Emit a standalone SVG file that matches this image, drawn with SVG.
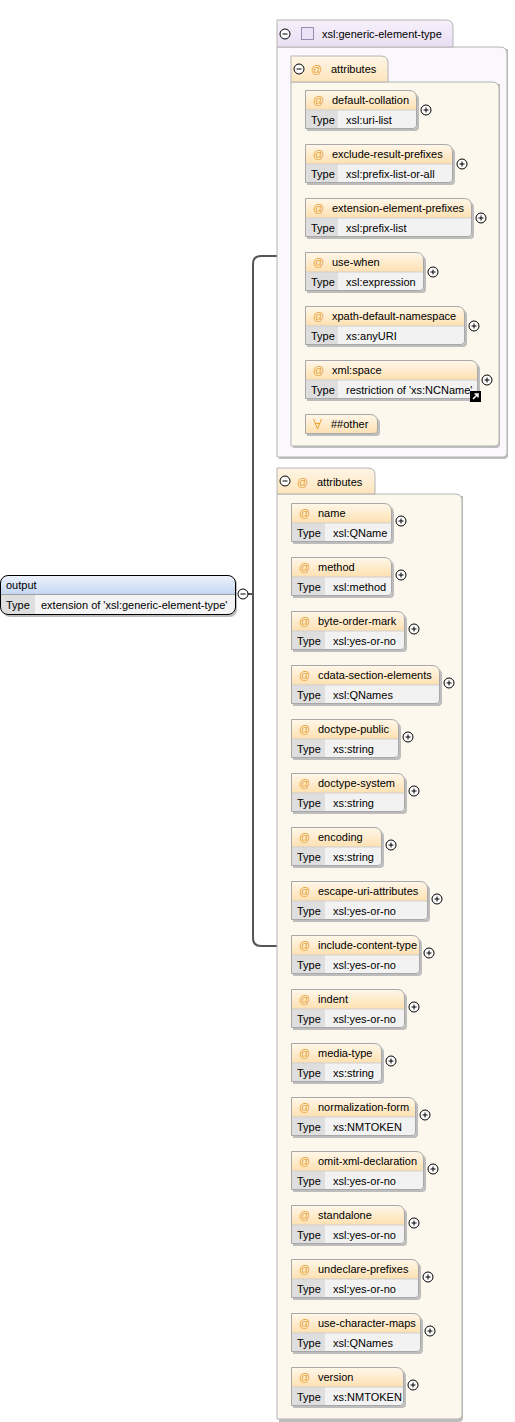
<svg xmlns="http://www.w3.org/2000/svg" width="515" height="1422" viewBox="0 0 515 1422">
<defs>
<linearGradient id="gAttr" x1="0" y1="0" x2="0" y2="1"><stop offset="0" stop-color="#fff8ec"/><stop offset="1" stop-color="#fde0b0"/></linearGradient>
<linearGradient id="gTab" x1="0" y1="0" x2="0" y2="1"><stop offset="0" stop-color="#fff6e6"/><stop offset="1" stop-color="#fce4bc"/></linearGradient>
<linearGradient id="gPurp" x1="0" y1="0" x2="0" y2="1"><stop offset="0" stop-color="#f6f0fb"/><stop offset="1" stop-color="#e9def3"/></linearGradient>
<linearGradient id="gBlue" x1="0" y1="0" x2="0" y2="1"><stop offset="0" stop-color="#eef3fc"/><stop offset="1" stop-color="#c4d6f2"/></linearGradient>
<g id="plus"><circle cx="0" cy="0" r="5" fill="#fff" stroke="#000" stroke-width="1"/><path d="M-2.5,0H2.5M0,-2.5V2.5" stroke="#000" stroke-width="1"/></g>
<g id="minus"><circle cx="0" cy="0" r="5" fill="#fff" stroke="#000" stroke-width="1"/><path d="M-2.5,0H2.5" stroke="#000" stroke-width="1"/></g>
</defs>
<style>
text{font-family:"Liberation Sans",Arial,sans-serif;font-size:11px;fill:#000}
.at{fill:#e8a030}
.sh{fill:#bdbdbd}
.bd{fill:none;stroke:#a8a8a8;stroke-width:1}
.tc{fill:#dedede}
.vc{fill:#f2f2f2}
.dv{stroke:#cfcfcf;stroke-width:1}
.conn{fill:none;stroke:#555;stroke-width:2}
</style>
<rect width="515" height="1422" fill="#fff"/>

<g id="connectors">
<path class="conn" d="M248,594H253"/>
<path class="conn" d="M290,256H261Q253,256 253,264V938Q253,946 261,946H277"/>
</g>

<g id="generic-element-type">
<path d="M279,49H508V455Q508,459 504,459H279Z" class="sh"/>
<path d="M277,47H500Q507,47 507,54V453Q507,457 503,457H277Z" fill="#faf7fd" stroke="#b4b4b4"/>
<path d="M277,20H446Q453,20 453,27V47H277Z" fill="url(#gPurp)" stroke="#b4b4b4"/>
<use href="#minus" x="285" y="34"/>
<rect x="301.5" y="27.5" width="12" height="12" fill="#ece2f6" stroke="#9a8cae"/>
<text x="322" y="38">xsl:generic-element-type</text>
</g>

<g id="attributes-1">
<path d="M293,84H500V444Q500,448 496,448H293Z" class="sh"/>
<path d="M291,82H492Q499,82 499,89V442Q499,446 495,446H291Z" fill="#fdf8ee" stroke="#b4b4b4"/>
<path d="M291,56H381Q388,56 388,63V82H291Z" fill="url(#gTab)" stroke="#b4b4b4"/>
<use href="#minus" x="299" y="69"/>
<text x="311" y="73" class="at">@</text>
<text x="331" y="73">attributes</text>
</g>

<g id="default-collation" transform="translate(305,90)">
<path d="M2,2H104Q114,2 114,10V37Q114,41 110,41H2Z" class="sh"/>
<path d="M0,0H104Q112,0 112,8V20H0Z" fill="url(#gAttr)"/>
<rect x="0" y="20" width="33" height="19" class="tc"/><path d="M33,20H112V35Q112,39 108,39H33Z" class="vc"/>
<path d="M0,20H112" class="dv"/>
<path d="M0.5,0.5H104Q111.5,0.5 111.5,8V35Q111.5,38.5 108,38.5H0.5Z" class="bd"/>
<text x="8" y="14" class="at">@</text><text x="27" y="14">default-collation</text>
<text x="6" y="34">Type</text><text x="41" y="34">xsl:uri-list</text>
<use href="#plus" x="121" y="20"/>
</g>

<g id="exclude-result-prefixes" transform="translate(305,144)">
<path d="M2,2H140Q150,2 150,10V37Q150,41 146,41H2Z" class="sh"/>
<path d="M0,0H140Q148,0 148,8V20H0Z" fill="url(#gAttr)"/>
<rect x="0" y="20" width="33" height="19" class="tc"/><path d="M33,20H148V35Q148,39 144,39H33Z" class="vc"/>
<path d="M0,20H148" class="dv"/>
<path d="M0.5,0.5H140Q147.5,0.5 147.5,8V35Q147.5,38.5 144,38.5H0.5Z" class="bd"/>
<text x="8" y="14" class="at">@</text><text x="27" y="14">exclude-result-prefixes</text>
<text x="6" y="34">Type</text><text x="41" y="34">xsl:prefix-list-or-all</text>
<use href="#plus" x="157" y="20"/>
</g>

<g id="extension-element-prefixes" transform="translate(305,198)">
<path d="M2,2H159Q169,2 169,10V37Q169,41 165,41H2Z" class="sh"/>
<path d="M0,0H159Q167,0 167,8V20H0Z" fill="url(#gAttr)"/>
<rect x="0" y="20" width="33" height="19" class="tc"/><path d="M33,20H167V35Q167,39 163,39H33Z" class="vc"/>
<path d="M0,20H167" class="dv"/>
<path d="M0.5,0.5H159Q166.5,0.5 166.5,8V35Q166.5,38.5 163,38.5H0.5Z" class="bd"/>
<text x="8" y="14" class="at">@</text><text x="27" y="14">extension-element-prefixes</text>
<text x="6" y="34">Type</text><text x="41" y="34">xsl:prefix-list</text>
<use href="#plus" x="176" y="20"/>
</g>

<g id="use-when" transform="translate(305,252)">
<path d="M2,2H111Q121,2 121,10V37Q121,41 117,41H2Z" class="sh"/>
<path d="M0,0H111Q119,0 119,8V20H0Z" fill="url(#gAttr)"/>
<rect x="0" y="20" width="33" height="19" class="tc"/><path d="M33,20H119V35Q119,39 115,39H33Z" class="vc"/>
<path d="M0,20H119" class="dv"/>
<path d="M0.5,0.5H111Q118.5,0.5 118.5,8V35Q118.5,38.5 115,38.5H0.5Z" class="bd"/>
<text x="8" y="14" class="at">@</text><text x="27" y="14">use-when</text>
<text x="6" y="34">Type</text><text x="41" y="34">xsl:expression</text>
<use href="#plus" x="128" y="20"/>
</g>

<g id="xpath-default-namespace" transform="translate(305,306)">
<path d="M2,2H152Q162,2 162,10V37Q162,41 158,41H2Z" class="sh"/>
<path d="M0,0H152Q160,0 160,8V20H0Z" fill="url(#gAttr)"/>
<rect x="0" y="20" width="33" height="19" class="tc"/><path d="M33,20H160V35Q160,39 156,39H33Z" class="vc"/>
<path d="M0,20H160" class="dv"/>
<path d="M0.5,0.5H152Q159.5,0.5 159.5,8V35Q159.5,38.5 156,38.5H0.5Z" class="bd"/>
<text x="8" y="14" class="at">@</text><text x="27" y="14">xpath-default-namespace</text>
<text x="6" y="34">Type</text><text x="41" y="34">xs:anyURI</text>
<use href="#plus" x="169" y="20"/>
</g>

<g id="xml-space" transform="translate(305,360)">
<path d="M2,2H165Q175,2 175,10V37Q175,41 171,41H2Z" class="sh"/>
<path d="M0,0H165Q173,0 173,8V20H0Z" fill="url(#gAttr)"/>
<rect x="0" y="20" width="33" height="19" class="tc"/><path d="M33,20H173V35Q173,39 169,39H33Z" class="vc"/>
<path d="M0,20H173" class="dv"/>
<path d="M0.5,0.5H165Q172.5,0.5 172.5,8V35Q172.5,38.5 169,38.5H0.5Z" class="bd"/>
<text x="8" y="14" class="at">@</text><text x="27" y="14">xml:space</text>
<text x="6" y="34">Type</text><text x="41" y="34">restriction of 'xs:NCName'</text>
<rect x="165" y="31" width="11" height="11" fill="#000"/>
<path d="M168,39L173,34M169.5,34H173V37.5" stroke="#fff" stroke-width="1.5" fill="none"/>
<use href="#plus" x="182" y="20"/>
</g>

<g id="other" transform="translate(305,414)">
<path d="M2,2H65Q75,2 75,10V18Q75,22 71,22H2Z" class="sh"/>
<path d="M0,0H65Q73,0 73,8V16Q73,20 69,20H0Z" fill="url(#gAttr)"/>
<path d="M0.5,0.5H65Q72.5,0.5 72.5,8V16Q72.5,19.5 69,19.5H0.5Z" class="bd"/>
<path d="M8.5,5L12.5,15L16.5,5M10,9.5H15" stroke="#e8a030" stroke-width="1" fill="none"/>
<text x="26" y="14">##other</text>
</g>

<g id="attributes-2">
<path d="M279,496H463V1418Q463,1422 459,1422H279Z" class="sh"/>
<path d="M277,494H455Q462,494 462,501V1415Q462,1419 458,1419H277Z" fill="#fdf8ee" stroke="#b4b4b4"/>
<path d="M277,468H368Q375,468 375,475V494H277Z" fill="url(#gTab)" stroke="#b4b4b4"/>
<use href="#minus" x="285" y="481"/>
<text x="297" y="486" class="at">@</text>
<text x="317" y="486">attributes</text>
</g>

<g id="name" transform="translate(291,503)">
<path d="M2,2H93Q103,2 103,10V37Q103,41 99,41H2Z" class="sh"/>
<path d="M0,0H93Q101,0 101,8V20H0Z" fill="url(#gAttr)"/>
<rect x="0" y="20" width="34" height="19" class="tc"/><path d="M34,20H101V35Q101,39 97,39H34Z" class="vc"/>
<path d="M0,20H101" class="dv"/>
<path d="M0.5,0.5H93Q100.5,0.5 100.5,8V35Q100.5,38.5 97,38.5H0.5Z" class="bd"/>
<text x="8" y="14" class="at">@</text><text x="27" y="14">name</text>
<text x="6" y="34">Type</text><text x="42" y="34">xsl:QName</text>
<use href="#plus" x="110" y="18"/>
</g>

<g id="method" transform="translate(291,557)">
<path d="M2,2H93Q103,2 103,10V37Q103,41 99,41H2Z" class="sh"/>
<path d="M0,0H93Q101,0 101,8V20H0Z" fill="url(#gAttr)"/>
<rect x="0" y="20" width="34" height="19" class="tc"/><path d="M34,20H101V35Q101,39 97,39H34Z" class="vc"/>
<path d="M0,20H101" class="dv"/>
<path d="M0.5,0.5H93Q100.5,0.5 100.5,8V35Q100.5,38.5 97,38.5H0.5Z" class="bd"/>
<text x="8" y="14" class="at">@</text><text x="27" y="14">method</text>
<text x="6" y="34">Type</text><text x="42" y="34">xsl:method</text>
<use href="#plus" x="110" y="18"/>
</g>

<g id="byte-order-mark" transform="translate(291,611)">
<path d="M2,2H106Q116,2 116,10V37Q116,41 112,41H2Z" class="sh"/>
<path d="M0,0H106Q114,0 114,8V20H0Z" fill="url(#gAttr)"/>
<rect x="0" y="20" width="34" height="19" class="tc"/><path d="M34,20H114V35Q114,39 110,39H34Z" class="vc"/>
<path d="M0,20H114" class="dv"/>
<path d="M0.5,0.5H106Q113.5,0.5 113.5,8V35Q113.5,38.5 110,38.5H0.5Z" class="bd"/>
<text x="8" y="14" class="at">@</text><text x="27" y="14">byte-order-mark</text>
<text x="6" y="34">Type</text><text x="42" y="34">xsl:yes-or-no</text>
<use href="#plus" x="123" y="18"/>
</g>

<g id="cdata-section-elements" transform="translate(291,665)">
<path d="M2,2H141Q151,2 151,10V37Q151,41 147,41H2Z" class="sh"/>
<path d="M0,0H141Q149,0 149,8V20H0Z" fill="url(#gAttr)"/>
<rect x="0" y="20" width="34" height="19" class="tc"/><path d="M34,20H149V35Q149,39 145,39H34Z" class="vc"/>
<path d="M0,20H149" class="dv"/>
<path d="M0.5,0.5H141Q148.5,0.5 148.5,8V35Q148.5,38.5 145,38.5H0.5Z" class="bd"/>
<text x="8" y="14" class="at">@</text><text x="27" y="14">cdata-section-elements</text>
<text x="6" y="34">Type</text><text x="42" y="34">xsl:QNames</text>
<use href="#plus" x="158" y="18"/>
</g>

<g id="doctype-public" transform="translate(291,719)">
<path d="M2,2H100Q110,2 110,10V37Q110,41 106,41H2Z" class="sh"/>
<path d="M0,0H100Q108,0 108,8V20H0Z" fill="url(#gAttr)"/>
<rect x="0" y="20" width="34" height="19" class="tc"/><path d="M34,20H108V35Q108,39 104,39H34Z" class="vc"/>
<path d="M0,20H108" class="dv"/>
<path d="M0.5,0.5H100Q107.5,0.5 107.5,8V35Q107.5,38.5 104,38.5H0.5Z" class="bd"/>
<text x="8" y="14" class="at">@</text><text x="27" y="14">doctype-public</text>
<text x="6" y="34">Type</text><text x="42" y="34">xs:string</text>
<use href="#plus" x="117" y="18"/>
</g>

<g id="doctype-system" transform="translate(291,773)">
<path d="M2,2H106Q116,2 116,10V37Q116,41 112,41H2Z" class="sh"/>
<path d="M0,0H106Q114,0 114,8V20H0Z" fill="url(#gAttr)"/>
<rect x="0" y="20" width="34" height="19" class="tc"/><path d="M34,20H114V35Q114,39 110,39H34Z" class="vc"/>
<path d="M0,20H114" class="dv"/>
<path d="M0.5,0.5H106Q113.5,0.5 113.5,8V35Q113.5,38.5 110,38.5H0.5Z" class="bd"/>
<text x="8" y="14" class="at">@</text><text x="27" y="14">doctype-system</text>
<text x="6" y="34">Type</text><text x="42" y="34">xs:string</text>
<use href="#plus" x="123" y="18"/>
</g>

<g id="encoding" transform="translate(291,827)">
<path d="M2,2H83Q93,2 93,10V37Q93,41 89,41H2Z" class="sh"/>
<path d="M0,0H83Q91,0 91,8V20H0Z" fill="url(#gAttr)"/>
<rect x="0" y="20" width="34" height="19" class="tc"/><path d="M34,20H91V35Q91,39 87,39H34Z" class="vc"/>
<path d="M0,20H91" class="dv"/>
<path d="M0.5,0.5H83Q90.5,0.5 90.5,8V35Q90.5,38.5 87,38.5H0.5Z" class="bd"/>
<text x="8" y="14" class="at">@</text><text x="27" y="14">encoding</text>
<text x="6" y="34">Type</text><text x="42" y="34">xs:string</text>
<use href="#plus" x="100" y="18"/>
</g>

<g id="escape-uri-attributes" transform="translate(291,881)">
<path d="M2,2H129Q139,2 139,10V37Q139,41 135,41H2Z" class="sh"/>
<path d="M0,0H129Q137,0 137,8V20H0Z" fill="url(#gAttr)"/>
<rect x="0" y="20" width="34" height="19" class="tc"/><path d="M34,20H137V35Q137,39 133,39H34Z" class="vc"/>
<path d="M0,20H137" class="dv"/>
<path d="M0.5,0.5H129Q136.5,0.5 136.5,8V35Q136.5,38.5 133,38.5H0.5Z" class="bd"/>
<text x="8" y="14" class="at">@</text><text x="27" y="14">escape-uri-attributes</text>
<text x="6" y="34">Type</text><text x="42" y="34">xsl:yes-or-no</text>
<use href="#plus" x="146" y="18"/>
</g>

<g id="include-content-type" transform="translate(291,935)">
<path d="M2,2H121Q131,2 131,10V37Q131,41 127,41H2Z" class="sh"/>
<path d="M0,0H121Q129,0 129,8V20H0Z" fill="url(#gAttr)"/>
<rect x="0" y="20" width="34" height="19" class="tc"/><path d="M34,20H129V35Q129,39 125,39H34Z" class="vc"/>
<path d="M0,20H129" class="dv"/>
<path d="M0.5,0.5H121Q128.5,0.5 128.5,8V35Q128.5,38.5 125,38.5H0.5Z" class="bd"/>
<text x="8" y="14" class="at">@</text><text x="27" y="14">include-content-type</text>
<text x="6" y="34">Type</text><text x="42" y="34">xsl:yes-or-no</text>
<use href="#plus" x="138" y="18"/>
</g>

<g id="indent" transform="translate(291,989)">
<path d="M2,2H106Q116,2 116,10V37Q116,41 112,41H2Z" class="sh"/>
<path d="M0,0H106Q114,0 114,8V20H0Z" fill="url(#gAttr)"/>
<rect x="0" y="20" width="34" height="19" class="tc"/><path d="M34,20H114V35Q114,39 110,39H34Z" class="vc"/>
<path d="M0,20H114" class="dv"/>
<path d="M0.5,0.5H106Q113.5,0.5 113.5,8V35Q113.5,38.5 110,38.5H0.5Z" class="bd"/>
<text x="8" y="14" class="at">@</text><text x="27" y="14">indent</text>
<text x="6" y="34">Type</text><text x="42" y="34">xsl:yes-or-no</text>
<use href="#plus" x="123" y="18"/>
</g>

<g id="media-type" transform="translate(291,1043)">
<path d="M2,2H83Q93,2 93,10V37Q93,41 89,41H2Z" class="sh"/>
<path d="M0,0H83Q91,0 91,8V20H0Z" fill="url(#gAttr)"/>
<rect x="0" y="20" width="34" height="19" class="tc"/><path d="M34,20H91V35Q91,39 87,39H34Z" class="vc"/>
<path d="M0,20H91" class="dv"/>
<path d="M0.5,0.5H83Q90.5,0.5 90.5,8V35Q90.5,38.5 87,38.5H0.5Z" class="bd"/>
<text x="8" y="14" class="at">@</text><text x="27" y="14">media-type</text>
<text x="6" y="34">Type</text><text x="42" y="34">xs:string</text>
<use href="#plus" x="100" y="18"/>
</g>

<g id="normalization-form" transform="translate(291,1097)">
<path d="M2,2H117Q127,2 127,10V37Q127,41 123,41H2Z" class="sh"/>
<path d="M0,0H117Q125,0 125,8V20H0Z" fill="url(#gAttr)"/>
<rect x="0" y="20" width="34" height="19" class="tc"/><path d="M34,20H125V35Q125,39 121,39H34Z" class="vc"/>
<path d="M0,20H125" class="dv"/>
<path d="M0.5,0.5H117Q124.5,0.5 124.5,8V35Q124.5,38.5 121,38.5H0.5Z" class="bd"/>
<text x="8" y="14" class="at">@</text><text x="27" y="14">normalization-form</text>
<text x="6" y="34">Type</text><text x="42" y="34">xs:NMTOKEN</text>
<use href="#plus" x="134" y="18"/>
</g>

<g id="omit-xml-declaration" transform="translate(291,1151)">
<path d="M2,2H125Q135,2 135,10V37Q135,41 131,41H2Z" class="sh"/>
<path d="M0,0H125Q133,0 133,8V20H0Z" fill="url(#gAttr)"/>
<rect x="0" y="20" width="34" height="19" class="tc"/><path d="M34,20H133V35Q133,39 129,39H34Z" class="vc"/>
<path d="M0,20H133" class="dv"/>
<path d="M0.5,0.5H125Q132.5,0.5 132.5,8V35Q132.5,38.5 129,38.5H0.5Z" class="bd"/>
<text x="8" y="14" class="at">@</text><text x="27" y="14">omit-xml-declaration</text>
<text x="6" y="34">Type</text><text x="42" y="34">xsl:yes-or-no</text>
<use href="#plus" x="142" y="18"/>
</g>

<g id="standalone" transform="translate(291,1205)">
<path d="M2,2H106Q116,2 116,10V37Q116,41 112,41H2Z" class="sh"/>
<path d="M0,0H106Q114,0 114,8V20H0Z" fill="url(#gAttr)"/>
<rect x="0" y="20" width="34" height="19" class="tc"/><path d="M34,20H114V35Q114,39 110,39H34Z" class="vc"/>
<path d="M0,20H114" class="dv"/>
<path d="M0.5,0.5H106Q113.5,0.5 113.5,8V35Q113.5,38.5 110,38.5H0.5Z" class="bd"/>
<text x="8" y="14" class="at">@</text><text x="27" y="14">standalone</text>
<text x="6" y="34">Type</text><text x="42" y="34">xsl:yes-or-no</text>
<use href="#plus" x="123" y="18"/>
</g>

<g id="undeclare-prefixes" transform="translate(291,1259)">
<path d="M2,2H120Q130,2 130,10V37Q130,41 126,41H2Z" class="sh"/>
<path d="M0,0H120Q128,0 128,8V20H0Z" fill="url(#gAttr)"/>
<rect x="0" y="20" width="34" height="19" class="tc"/><path d="M34,20H128V35Q128,39 124,39H34Z" class="vc"/>
<path d="M0,20H128" class="dv"/>
<path d="M0.5,0.5H120Q127.5,0.5 127.5,8V35Q127.5,38.5 124,38.5H0.5Z" class="bd"/>
<text x="8" y="14" class="at">@</text><text x="27" y="14">undeclare-prefixes</text>
<text x="6" y="34">Type</text><text x="42" y="34">xsl:yes-or-no</text>
<use href="#plus" x="137" y="18"/>
</g>

<g id="use-character-maps" transform="translate(291,1313)">
<path d="M2,2H122Q132,2 132,10V37Q132,41 128,41H2Z" class="sh"/>
<path d="M0,0H122Q130,0 130,8V20H0Z" fill="url(#gAttr)"/>
<rect x="0" y="20" width="34" height="19" class="tc"/><path d="M34,20H130V35Q130,39 126,39H34Z" class="vc"/>
<path d="M0,20H130" class="dv"/>
<path d="M0.5,0.5H122Q129.5,0.5 129.5,8V35Q129.5,38.5 126,38.5H0.5Z" class="bd"/>
<text x="8" y="14" class="at">@</text><text x="27" y="14">use-character-maps</text>
<text x="6" y="34">Type</text><text x="42" y="34">xsl:QNames</text>
<use href="#plus" x="139" y="18"/>
</g>

<g id="version" transform="translate(291,1367)">
<path d="M2,2H105Q115,2 115,10V37Q115,41 111,41H2Z" class="sh"/>
<path d="M0,0H105Q113,0 113,8V20H0Z" fill="url(#gAttr)"/>
<rect x="0" y="20" width="34" height="19" class="tc"/><path d="M34,20H113V35Q113,39 109,39H34Z" class="vc"/>
<path d="M0,20H113" class="dv"/>
<path d="M0.5,0.5H105Q112.5,0.5 112.5,8V35Q112.5,38.5 109,38.5H0.5Z" class="bd"/>
<text x="8" y="14" class="at">@</text><text x="27" y="14">version</text>
<text x="6" y="34">Type</text><text x="42" y="34">xs:NMTOKEN</text>
<use href="#plus" x="122" y="18"/>
</g>

<g id="output">
<rect x="3" y="577" width="234" height="40" rx="7" class="sh"/>
<path d="M8,575.5H228Q235.5,575.5 235.5,583V594.5H0.5V583Q0.5,575.5 8,575.5Z" fill="url(#gBlue)"/>
<path d="M0.5,594.5H35V614.5H8Q0.5,614.5 0.5,607Z" class="tc"/>
<path d="M35,594.5H235.5V607Q235.5,614.5 228,614.5H35Z" fill="#f4f4f4"/>
<path d="M0.5,594.5H235.5" stroke="#a0a0a0"/>
<rect x="0.5" y="575.5" width="235" height="39" rx="7.5" fill="none" stroke="#000"/>
<text x="6" y="589">output</text>
<text x="6" y="609">Type</text>
<text x="41" y="609">extension of 'xsl:generic-element-type'</text>
<use href="#minus" x="243" y="594"/>
</g>
</svg>
